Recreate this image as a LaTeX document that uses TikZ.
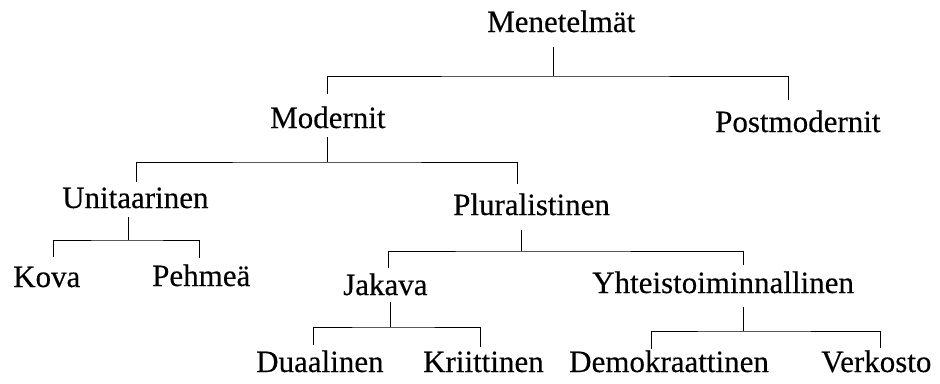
\documentclass[tikz,border=0pt]{standalone}
\usepackage{fontspec}
\setmainfont{Liberation Serif}[FakeBold=0.3]
\begin{document}
\begin{tikzpicture}[x=1pt,y=-1pt,
  term/.style={anchor=base west,inner sep=0pt,font=\fontsize{31}{31}\selectfont},
  branch/.style={draw=black,line width=1pt}]
\useasboundingbox (0,0) rectangle (940,383);

% labels of the classification tree
\node[term] (men)  at (487,32)  {Menetelmät};
\node[term] (mod)  at (270,128) {Modernit};
\node[term] (post) at (715,132) {Postmodernit};
\node[term] (uni)  at (62,208)  {Unitaarinen};
\node[term] (plu)  at (453,215) {Pluralistinen};
\node[term] (kova) at (13,287)  {Kova};
\node[term] (peh)  at (152,286) {Pehmeä};
\node[term] (jak)  at (343,295) {Jakava};
\node[term] (yht)  at (592,293) {Yhteistoiminnallinen};
\node[term] (dua)  at (256,372) {Duaalinen};
\node[term] (kri)  at (423,372) {Kriittinen};
\node[term] (dem)  at (569,372) {Demokraattinen};
\node[term] (ver)  at (821,372) {Verkosto};

% stems below each parent and their branching bars
\coordinate (menS) at (553,47);  \coordinate (menB) at (553,76);
\coordinate (modS) at (327,137); \coordinate (modB) at (327,162);
\coordinate (uniS) at (128,217); \coordinate (uniB) at (128,240);
\coordinate (pluS) at (521,230); \coordinate (pluB) at (521,251);
\coordinate (jakS) at (390,302); \coordinate (jakB) at (390,327);
\coordinate (yhtS) at (743,307); \coordinate (yhtB) at (743,331);

% upper ends of the drops above each child
\coordinate (modT)  at (327,94);
\coordinate (postT) at (788,100);
\coordinate (uniT)  at (136,182);
\coordinate (pluT)  at (517,184);
\coordinate (kovaT) at (53,257);
\coordinate (pehT)  at (199,258);
\coordinate (jakT)  at (388,268);
\coordinate (yhtT)  at (743,265);
\coordinate (duaT)  at (313,345);
\coordinate (kriT)  at (480,347);
\coordinate (demT)  at (651,349);
\coordinate (verT)  at (880,348);

\draw[branch] (menS) -- (menB);
\draw[branch] (modT) |- (menB) -| (postT);

\draw[branch] (modS) -- (modB);
\draw[branch] (uniT) |- (modB) -| (pluT);

\draw[branch] (uniS) -- (uniB);
\draw[branch] (kovaT) |- (uniB) -| (pehT);

\draw[branch] (pluS) -- (pluB);
\draw[branch] (jakT) |- (pluB) -| (yhtT);

\draw[branch] (jakS) -- (jakB);
\draw[branch] (duaT) |- (jakB) -| (kriT);

\draw[branch] (yhtS) -- (yhtB);
\draw[branch] (demT) |- (yhtB) -| (verT);
\end{tikzpicture}
\end{document}
